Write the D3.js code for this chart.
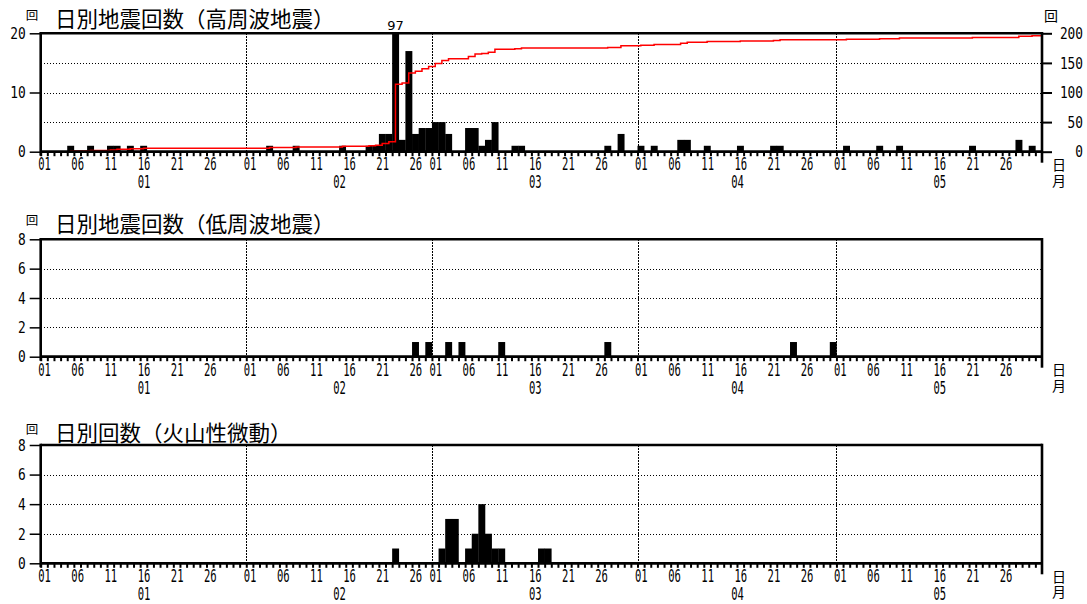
<!DOCTYPE html>
<html><head><meta charset="utf-8">
<script src="https://cdn.jsdelivr.net/npm/d3@7"></script>
<style>body{margin:0;background:#fff} svg{display:block}</style>
</head><body><svg id="c" width="1087" height="604"></svg>
<script>
// ---- data ----
const monthLabels = ["01","02","03","04","05"];
const monthLengths = [31,28,31,30,31];
const dayTickLabels = ["01","06","11","16","21","26"];

const highDates  = ["01-05","01-08","01-11","01-12","01-14","01-16",
  "02-04","02-08","02-15","02-19","02-20","02-21","02-22","02-23","02-24","02-25","02-26","02-27","02-28",
  "03-01","03-02","03-03","03-06","03-07","03-08","03-09","03-10","03-13","03-14","03-27","03-29",
  "04-01","04-03","04-07","04-08","04-11","04-16","04-21","04-22",
  "05-02","05-07","05-10","05-21","05-28","05-30"];
const highCounts = [1,1,1,1,1,1,
  1,1,1,1,1,3,3,97,2,17,3,4,4,
  5,5,3,4,4,1,2,5,1,1,1,3,
  1,1,2,2,1,1,1,1,
  1,1,1,1,2,1];

const lowDates  = ["02-26","02-28","03-03","03-05","03-11","03-27","04-24","04-30"];
const lowCounts = [1,1,1,1,1,1,1,1];

const tremorDates  = ["02-23","03-02","03-03","03-04","03-06","03-07","03-08","03-09","03-10","03-11","03-17","03-18"];
const tremorCounts = [1,1,3,3,1,2,4,2,1,1,1,1];

const titles = ["日別地震回数（高周波地震）","日別地震回数（低周波地震）","日別回数（火山性微動）"];
const highLeftTicks = [0,10,20];
const highRightTicks = [0,50,100,150,200];
const smallTicks = [0,2,4,6,8];

// ---- helpers ----
const totalDays = d3.sum(monthLengths);
const monthStart = d3.cumsum([0].concat(monthLengths)).slice(0,5);
function dayIndex(s){ const [m,d]=s.split("-").map(Number); return monthStart[m-1]+d-1; }
function daily(dates, counts){
  const a = new Array(totalDays).fill(0);
  dates.forEach((s,i)=>{ a[dayIndex(s)] = counts[i]; });
  return a;
}
const svg = d3.select("#c");
const X0 = 40.7, X1 = 1042;
const x = d3.scaleLinear().domain([0,totalDays]).range([X0,X1]);
const MONO = "'DejaVu Sans Mono', monospace";
const CJK = "'Noto Sans CJK JP', sans-serif";

function squeeze(sel, s){
  sel.each(function(){
    const t = d3.select(this);
    const xx = +t.attr("x") || 0;
    t.attr("x", xx/s).attr("transform", `scale(${s},1)`);
  });
}

function panel(cfg){
  const g = svg.append("g");
  const y = d3.scaleLinear().domain([0,cfg.yMax]).range([cfg.bottom,cfg.top]);
  const clipId = "clip"+cfg.id;
  g.append("clipPath").attr("id",clipId).append("rect")
    .attr("x",X0).attr("y",cfg.top).attr("width",X1-X0).attr("height",cfg.bottom-cfg.top);

  const dotted = sel => sel.attr("stroke","#000").attr("stroke-width",1.5)
    .attr("stroke-dasharray","1.5,1.5").attr("shape-rendering","crispEdges");
  // grid horizontal
  g.append("g").selectAll("line").data(cfg.grid).join("line")
    .attr("x1",X0).attr("x2",X1).attr("y1",d=>Math.round(y(d))+0.5).attr("y2",d=>Math.round(y(d))+0.5)
    .call(dotted);
  // grid vertical (month starts)
  g.append("g").selectAll("line").data(monthStart.slice(1)).join("line")
    .attr("x1",d=>Math.round(x(d))+0.5).attr("x2",d=>Math.round(x(d))+0.5).attr("y1",cfg.top).attr("y2",cfg.bottom)
    .call(dotted);

  // bars
  const data = cfg.values.map((v,i)=>({i,v})).filter(d=>d.v>0);
  g.append("g").attr("clip-path",`url(#${clipId})`).selectAll("rect").data(data).join("rect")
    .attr("x",d=>x(d.i)).attr("width",d=>x(d.i+1)-x(d.i)+0.3)
    .attr("y",d=>y(Math.min(d.v,cfg.yMax))).attr("height",d=>cfg.bottom-y(Math.min(d.v,cfg.yMax)))
    .attr("fill","#000");
  // overflow labels
  g.append("g").selectAll("text").data(data.filter(d=>d.v>cfg.yMax)).join("text")
    .attr("x",d=>x(d.i+0.5)).attr("y",cfg.top-3).attr("text-anchor","middle")
    .attr("font-family","'DejaVu Sans', sans-serif").attr("font-size",13).text(d=>d.v);

  // cumulative line
  if(cfg.cumulative){
    const yR = d3.scaleLinear().domain([0,cfg.rightMax]).range([cfg.bottom,cfg.top]);
    const cum = Array.from(d3.cumsum(cfg.values));
    const pts = [[0,0]].concat(cum.map((c,i)=>[i+0.5,c])).concat([[totalDays,cum[cum.length-1]]]);
    const line = d3.line().x(d=>x(d[0])).y(d=>yR(d[1])).curve(d3.curveStepAfter);
    g.append("path").datum(pts).attr("d",line).attr("fill","none")
      .attr("stroke","#ff0000").attr("stroke-width",1.5);
    // right axis
    const ra = g.append("g").attr("transform",`translate(${X1},0)`)
      .call(d3.axisRight(yR).tickValues(highRightTicks).tickSize(10).tickPadding(6));
    ra.select(".domain").remove();
    ra.selectAll("line").attr("stroke-width",2);
    ra.selectAll("text").attr("font-family",MONO).attr("font-size",16).attr("fill","#000")
      .attr("text-anchor","end").attr("x",41);
    squeeze(ra.selectAll("text"),0.8);
    g.append("text").attr("x",1051).attr("y",21).attr("text-anchor","middle")
      .attr("font-family",CJK).attr("font-size",14).text("回");
  }

  // day ticks
  const dt = g.append("g").attr("transform",`translate(0,${cfg.bottom})`)
    .call(d3.axisBottom(x).tickValues(d3.range(0,totalDays)).tickSize(4.5).tickFormat(""));
  dt.select(".domain").remove();
  dt.selectAll("line").attr("stroke-width",2);

  // day labels
  const labelDays = [];
  monthStart.forEach(ms=>dayTickLabels.forEach(l=>labelDays.push({v:ms+(+l)-1+0.5,l})));
  const dl = g.append("g").attr("transform",`translate(0,${cfg.bottom})`)
    .call(d3.axisBottom(x).tickValues(labelDays.map(d=>d.v)).tickSize(0).tickPadding(cfg.dayPad)
      .tickFormat((d,i)=>labelDays[i].l));
  dl.select(".domain").remove();
  dl.selectAll("text").attr("font-family",MONO).attr("font-size",17).attr("fill","#000");
  squeeze(dl.selectAll("text"),0.62);

  // month labels
  const mids = monthStart.map((ms,i)=>ms+monthLengths[i]/2);
  const ml = g.append("g").attr("transform",`translate(0,${cfg.bottom})`)
    .call(d3.axisBottom(x).tickValues(mids).tickSize(0).tickPadding(cfg.monPad)
      .tickFormat((d,i)=>monthLabels[i]));
  ml.select(".domain").remove();
  ml.selectAll("text").attr("font-family",MONO).attr("font-size",17).attr("fill","#000");
  squeeze(ml.selectAll("text"),0.62);

  // left axis
  const la = g.append("g").attr("transform",`translate(${X0},0)`)
    .call(d3.axisLeft(y).tickValues(cfg.leftTicks).tickSize(11).tickPadding(4));
  la.select(".domain").remove();
  la.selectAll("line").attr("stroke-width",1.5);
  la.selectAll("text").attr("font-family",MONO).attr("font-size",16.5).attr("fill","#000");
  squeeze(la.selectAll("text"),0.78);

  // frame
  g.append("line").attr("x1",X0).attr("x2",X1).attr("y1",cfg.top).attr("y2",cfg.top)
    .attr("stroke","#000").attr("stroke-width",2.6);
  g.append("line").attr("x1",X0).attr("x2",X1).attr("y1",cfg.bottom).attr("y2",cfg.bottom)
    .attr("stroke","#000").attr("stroke-width",2.8);
  g.append("line").attr("x1",X0).attr("x2",X0).attr("y1",cfg.top-1.3).attr("y2",cfg.bottom+4)
    .attr("stroke","#000").attr("stroke-width",2.6);
  g.append("line").attr("x1",X1).attr("x2",X1).attr("y1",cfg.top-1.3).attr("y2",cfg.bottom+11)
    .attr("stroke","#000").attr("stroke-width",2.6);

  // titles
  g.append("text").attr("x",55).attr("y",cfg.titleY).attr("font-family",CJK).attr("font-size",21.5)
    .attr("fill","#000").text(cfg.title);
  g.append("text").attr("x",32).attr("y",cfg.titleY-7).attr("text-anchor","middle")
    .attr("font-family",CJK).attr("font-size",12.5).attr("fill","#000").text("回");
  // 日 / 月 as a single vertical label
  g.append("text").attr("x",1059).attr("y",cfg.bottom+6)
    .style("writing-mode","vertical-rl").style("text-orientation","upright")
    .attr("font-family",CJK).attr("font-size",14).attr("letter-spacing",1.5)
    .attr("fill","#000").text("日月");
}

panel({id:1, top:33.3, bottom:151.7, yMax:20, grid:[5,10,15], leftTicks:highLeftTicks,
  values:daily(highDates,highCounts), cumulative:true, rightMax:200,
  title:titles[0], titleY:27, dayPad:6, monPad:24.5});
panel({id:2, top:239.3, bottom:356.7, yMax:8, grid:[2,4,6], leftTicks:smallTicks,
  values:daily(lowDates,lowCounts), cumulative:false,
  title:titles[1], titleY:232, dayPad:7, monPad:25.5});
panel({id:3, top:445, bottom:563.3, yMax:8, grid:[2,4,6], leftTicks:smallTicks,
  values:daily(tremorDates,tremorCounts), cumulative:false,
  title:titles[2], titleY:440.5, dayPad:6.5, monPad:25});
</script></body></html>
